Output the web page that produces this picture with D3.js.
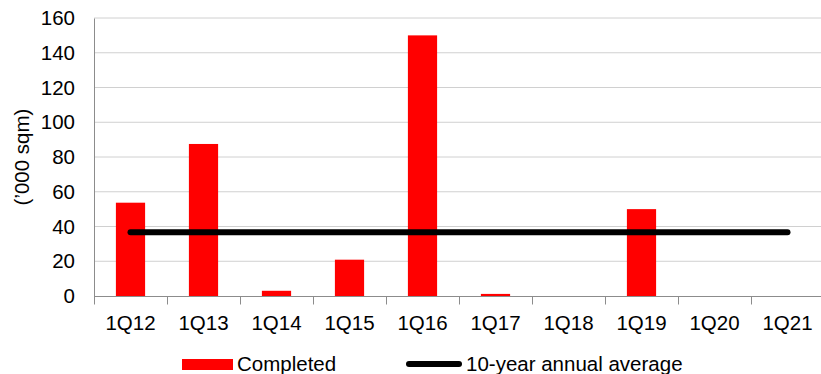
<!DOCTYPE html>
<html>
<head>
<meta charset="utf-8">
<script src="https://cdn.jsdelivr.net/npm/d3@7"></script>
<style>
  html, body { margin: 0; padding: 0; background: #fff; }
  svg { display: block; font-family: "Liberation Sans", Arial, sans-serif; }
</style>
</head>
<body>
<svg id="chart" width="821" height="374"></svg>
<script>
// Quarterly completions ('000 sqm) and the 10-year annual average
const quarters = ["1Q12","1Q13","1Q14","1Q15","1Q16","1Q17","1Q18","1Q19","1Q20","1Q21"];
const completed = [53.7, 87.5, 3, 20.9, 150, 1.2, 0, 50, 0, 0];
const average = [36.7, 36.7, 36.7, 36.7, 36.7, 36.7, 36.7, 36.7, 36.7, 36.7];
const yTicks = [0, 20, 40, 60, 80, 100, 120, 140, 160];

const FS = 20.5;
const svg = d3.select("#chart");
const m = { left: 94, right: 824, top: 18, bottom: 296 };

const x = d3.scaleBand().domain(quarters).range([m.left, m.right]).paddingInner(0).paddingOuter(0);
const y = d3.scaleLinear().domain([0, 160]).range([m.bottom, m.top]);

// horizontal gridlines
svg.append("g").selectAll("line").data(yTicks.filter(d => d > 0)).join("line")
  .attr("x1", m.left).attr("x2", m.right)
  .attr("y1", d => y(d)).attr("y2", d => y(d))
  .attr("stroke", "#d0d0d0").attr("stroke-width", 1);

// bars
const barW = x.bandwidth() * 0.4;
svg.append("g").selectAll("rect").data(quarters).join("rect")
  .attr("x", (d) => x(d) + (x.bandwidth() - barW) / 2)
  .attr("width", barW)
  .attr("y", (d, i) => y(completed[i]))
  .attr("height", (d, i) => y(0) - y(completed[i]))
  .attr("fill", "#ff0000");

// y axis
const yAxis = d3.axisLeft(y).tickValues(yTicks).tickSize(0).tickPadding(19);
const gy = svg.append("g").attr("transform", `translate(${m.left},0)`).call(yAxis);
gy.select(".domain").attr("stroke", "#8c8c8c");
gy.selectAll("text").attr("font-size", FS).attr("fill", "#000").attr("font-family", "Liberation Sans, Arial, sans-serif");

// x axis with ticks at band edges
const gx = svg.append("g").attr("transform", `translate(0,${m.bottom + 0.5})`);
gx.append("line").attr("x1", m.left).attr("x2", m.right).attr("stroke", "#8c8c8c");
const edges = quarters.map(q => x(q)).concat([m.right]);
gx.selectAll("line.tk").data(edges).join("line").attr("class", "tk")
  .attr("x1", d => Math.round(d) + 0.5).attr("x2", d => Math.round(d) + 0.5)
  .attr("y1", 0).attr("y2", 8).attr("stroke", "#8c8c8c");
gx.selectAll("text").data(quarters).join("text")
  .attr("x", d => x(d) + x.bandwidth() / 2)
  .attr("y", 33.5)
  .attr("text-anchor", "middle")
  .attr("font-size", FS)
  .attr("fill", "#000")
  .text(d => d);

// average line
const line = d3.line().x((d, i) => x(quarters[i]) + x.bandwidth() / 2).y(d => y(d));
svg.append("path").datum(average).attr("d", line)
  .attr("fill", "none").attr("stroke", "#000").attr("stroke-width", 6).attr("stroke-linecap", "round");

// y axis title
svg.append("text")
  .attr("transform", `translate(29,157) rotate(-90)`)
  .attr("text-anchor", "middle")
  .attr("font-size", FS)
  .attr("fill", "#000")
  .text("(\u2019000 sqm)");

// legend
const lg = svg.append("g");
lg.append("rect").attr("x", 182).attr("y", 359).attr("width", 51).attr("height", 11).attr("fill", "#ff0000");
lg.append("text").attr("x", 237).attr("y", 371).attr("font-size", FS).attr("fill", "#000").text("Completed");
lg.append("line").attr("x1", 409).attr("x2", 459).attr("y1", 364).attr("y2", 364)
  .attr("stroke", "#000").attr("stroke-width", 6).attr("stroke-linecap", "round");
lg.append("text").attr("x", 466).attr("y", 371).attr("font-size", FS).attr("fill", "#000").text("10-year annual average");
</script>
</body>
</html>
